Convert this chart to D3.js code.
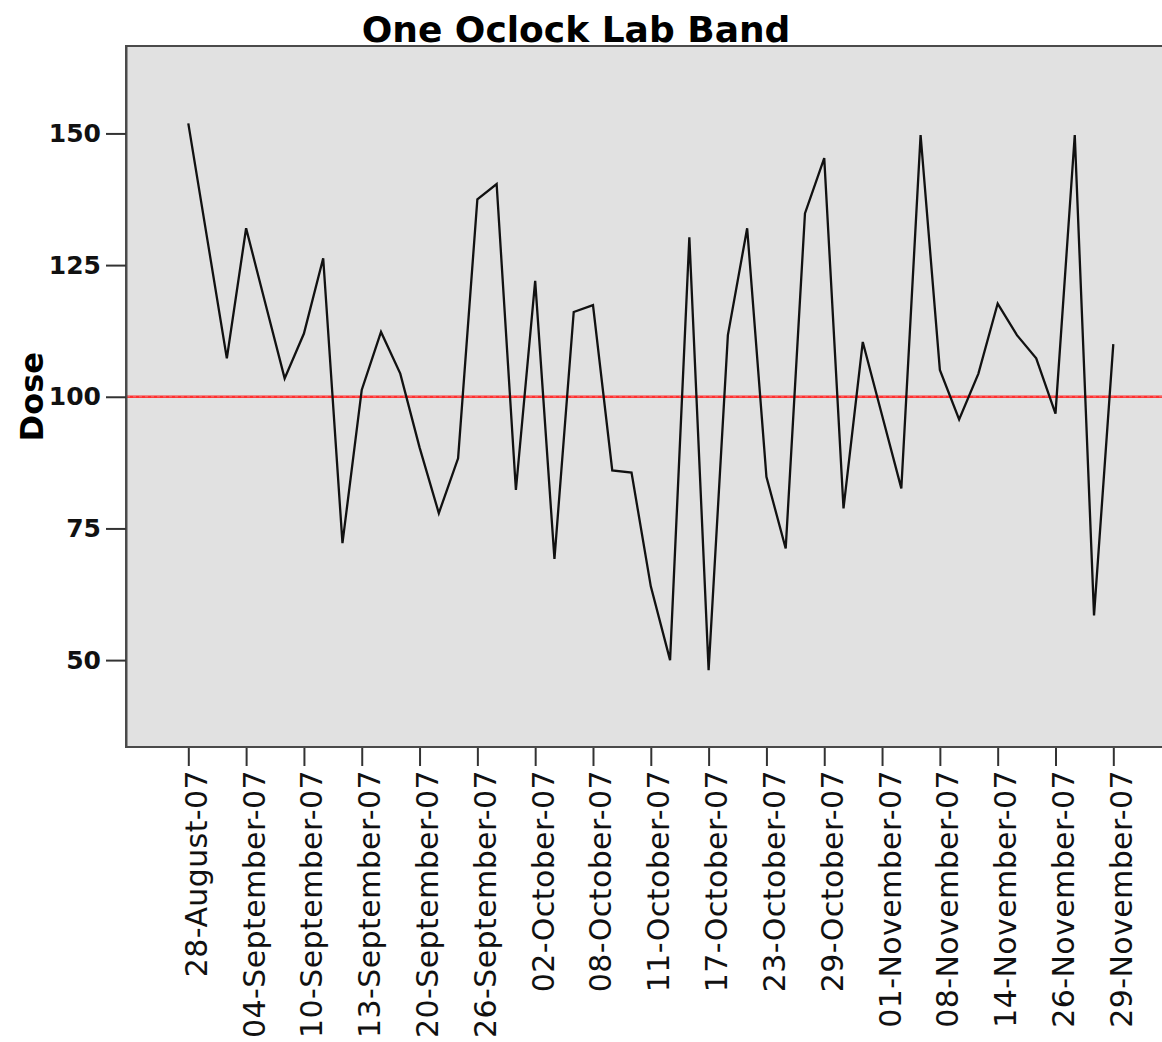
<!DOCTYPE html>
<html>
<head>
<meta charset="utf-8">
<script src="https://cdn.jsdelivr.net/npm/d3@7"></script>
<style>
  html, body { margin: 0; padding: 0; background: #ffffff; }
  svg { display: block; }
</style>
</head>
<body>
<svg id="chart" width="1162" height="1042"></svg>
<script>
// ---- data ----
const chartTitle = "One Oclock Lab Band";
const yTitle = "Dose";
const referenceValue = 100;
const doseValues = [
  151.9, 129.6, 107.3, 132.0, 117.7, 103.5, 112.0, 126.3, 72.2, 101.3,
  112.3, 104.4, 90.4, 77.9, 88.3, 137.5, 140.4, 82.3, 122.0, 69.2,
  116.1, 117.4, 86.0, 85.6, 64.0, 50.0, 130.3, 48.1, 111.7, 132.0,
  84.8, 71.2, 134.8, 145.3, 78.8, 110.4, 96.5, 82.6, 149.7, 105.1,
  95.7, 104.4, 117.7, 111.7, 107.3, 96.8, 149.7, 58.5, 110.0
];
const tickLabels = [
  "28-August-07", "04-September-07", "10-September-07", "13-September-07",
  "20-September-07", "26-September-07", "02-October-07", "08-October-07",
  "11-October-07", "17-October-07", "23-October-07", "29-October-07",
  "01-November-07", "08-November-07", "14-November-07", "26-November-07",
  "29-November-07"
];
const tickEvery = 3; // one labelled date every third observation
const yTickValues = [50, 75, 100, 125, 150];
const yDomain = [33.5, 166.6];

// ---- layout ----
const plot = { left: 126, top: 46, right: 1175, bottom: 747 };
const svg = d3.select("#chart");

const x = d3.scaleLinear().domain([0, doseValues.length - 1]).range([188.3, 1113.3]);
const y = d3.scaleLinear().domain(yDomain).range([plot.bottom, plot.top]);

// plot background
svg.append("rect")
  .attr("x", plot.left).attr("y", plot.top)
  .attr("width", plot.right - plot.left).attr("height", plot.bottom - plot.top)
  .attr("fill", "#e1e1e1")
  .attr("stroke", "#4a4a4a").attr("stroke-width", 2);

// reference line
svg.append("line")
  .attr("x1", plot.left + 1).attr("x2", plot.right)
  .attr("y1", y(referenceValue)).attr("y2", y(referenceValue))
  .attr("stroke", "#ff3030").attr("stroke-width", 2.6);
svg.append("line")
  .attr("x1", plot.left + 1).attr("x2", plot.right)
  .attr("y1", y(referenceValue)).attr("y2", y(referenceValue))
  .attr("stroke", "#f27070").attr("stroke-width", 1)
  .attr("stroke-dasharray", "3,3");

// data line
const line = d3.line().x((d, i) => x(i)).y(d => y(d));
svg.append("path")
  .datum(doseValues)
  .attr("d", line)
  .attr("fill", "none")
  .attr("stroke", "#111")
  .attr("stroke-width", 2.3)
  .attr("stroke-linejoin", "miter");

// y axis
const yAxis = d3.axisLeft(y).tickValues(yTickValues).tickSizeInner(20).tickSizeOuter(0).tickPadding(5);
const gy = svg.append("g").attr("transform", `translate(${plot.left},0)`).call(yAxis);
gy.select(".domain").attr("stroke", "#4a4a4a").attr("stroke-width", 2);
gy.selectAll(".tick line").attr("stroke", "#333").attr("stroke-width", 2);
gy.selectAll(".tick text")
  .attr("fill", "#111")
  .style("font-family", "'DejaVu Sans', sans-serif")
  .style("font-size", "25px")
  .style("font-weight", "bold");

// x axis
const xTickIdx = tickLabels.map((_, k) => k * tickEvery);
const xAxis = d3.axisBottom(x).tickValues(xTickIdx)
  .tickFormat(d => tickLabels[d / tickEvery]).tickSizeInner(19).tickSizeOuter(0);
const gx = svg.append("g").attr("transform", `translate(0,${plot.bottom})`).call(xAxis);
gx.select(".domain").remove();
svg.append("line")
  .attr("x1", plot.left - 1).attr("x2", plot.right)
  .attr("y1", plot.bottom).attr("y2", plot.bottom)
  .attr("stroke", "#4a4a4a").attr("stroke-width", 2);
gx.selectAll(".tick line").attr("stroke", "#333").attr("stroke-width", 2);
gx.selectAll(".tick text")
  .attr("fill", "#111")
  .attr("transform", "rotate(-90)")
  .attr("text-anchor", "end")
  .attr("x", -23)
  .attr("y", 0)
  .attr("dy", "0.6em")
  .attr("dx", 0)
  .style("font-family", "'DejaVu Sans', sans-serif")
  .style("font-size", "30px")
  .style("letter-spacing", "0.4px");

// titles
svg.append("text")
  .attr("x", 576).attr("y", 42)
  .attr("text-anchor", "middle")
  .style("font-family", "'Comic Sans MS', 'DejaVu Sans', sans-serif")
  .style("font-size", "36px")
  .style("font-weight", "bold")
  .attr("fill", "#000")
  .text(chartTitle);

svg.append("text")
  .attr("transform", `translate(43,${y(referenceValue)}) rotate(-90)`)
  .attr("text-anchor", "middle")
  .style("font-family", "'DejaVu Sans', sans-serif")
  .style("font-size", "32px")
  .style("font-weight", "bold")
  .attr("fill", "#000")
  .text(yTitle);
</script>
</body>
</html>
